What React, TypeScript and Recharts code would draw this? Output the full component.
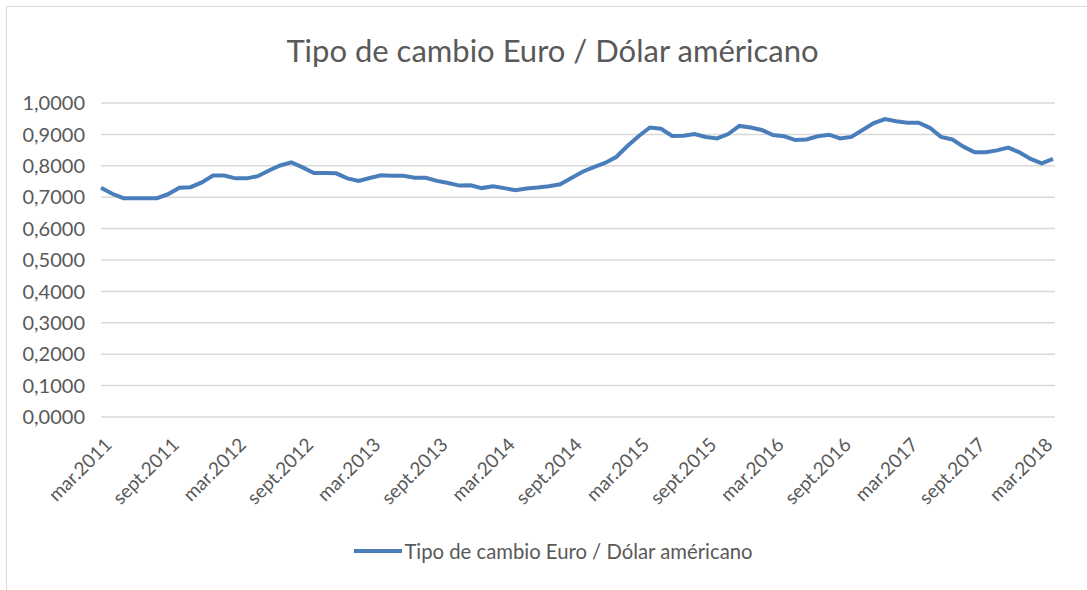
import React from 'react';
import { LineChart, Line, XAxis, YAxis, CartesianGrid, Legend } from 'recharts';

const TITLE = 'Tipo de cambio Euro / Dólar américano';
const SERIES_NAME = 'Tipo de cambio Euro / Dólar américano';

const monthNames = ['mar.', 'abr.', 'may.', 'jun.', 'jul.', 'ago.', 'sept.', 'oct.', 'nov.', 'dic.', 'ene.', 'feb.'];

// Monthly values, mar.2011 .. abr.2018
const values2011 = [0.730, 0.711, 0.697, 0.697, 0.697, 0.697, 0.710, 0.730, 0.732, 0.747];
const values2012 = [0.769, 0.769, 0.760, 0.760, 0.767, 0.785, 0.801, 0.811, 0.795, 0.777, 0.777, 0.776];
const values2013 = [0.760, 0.752, 0.761, 0.770, 0.768, 0.768, 0.762, 0.762, 0.752, 0.745, 0.737, 0.738];
const values2014 = [0.729, 0.735, 0.729, 0.722, 0.728, 0.731, 0.735, 0.741, 0.761, 0.781, 0.796, 0.809];
const values2015 = [0.828, 0.863, 0.894, 0.922, 0.918, 0.895, 0.896, 0.901, 0.892, 0.887, 0.901, 0.927];
const values2016 = [0.922, 0.914, 0.898, 0.894, 0.882, 0.884, 0.894, 0.899, 0.887, 0.892, 0.914, 0.936];
const values2017 = [0.949, 0.942, 0.937, 0.937, 0.921, 0.892, 0.884, 0.861, 0.843, 0.843, 0.849, 0.858];
const values2018 = [0.843, 0.822, 0.808, 0.822];

const values = [...values2011, ...values2012, ...values2013, ...values2014, ...values2015, ...values2016, ...values2017, ...values2018];

const categories = values.map((_, i) => {
  const year = 2011 + Math.floor((i + 2) / 12);
  return monthNames[i % 12] + year;
});

const yTicks = [0, 0.1, 0.2, 0.3, 0.4, 0.5, 0.6, 0.7, 0.8, 0.9, 1.0];

const data = categories.map((c, i) => ({ mes: c, valor: values[i] }));

const FONT = 'Lato, "Open Sans", sans-serif';
const TEXT = '#595959';
const LINE = '#4a7ebb';

const XTick = (props: any) => {
  const { x, y, payload } = props;
  const ax = x + 12;
  const ay = y + 29;
  return (
    <text x={ax} y={ay} textAnchor="end" fill={TEXT} fontSize={19} fontFamily={FONT} transform={`rotate(-45, ${ax}, ${ay})`}>
      {payload.value}
    </text>
  );
};

const LegendContent = () => (
  <div style={{ display: 'flex', justifyContent: 'center', alignItems: 'center', fontFamily: FONT, fontSize: 20.3, color: TEXT }}>
    <svg width={48} height={8} style={{ display: 'block' }}>
      <line x1={0} y1={4} x2={48} y2={4} stroke={LINE} strokeWidth={4} />
    </svg>
    <span style={{ marginLeft: 2 }}>{SERIES_NAME}</span>
  </div>
);

export default function App() {
  return (
    <div style={{ position: 'absolute', left: 0, top: 0, width: 1087, height: 590, background: '#fff', overflow: 'hidden' }}>
      <div style={{ position: 'absolute', left: 6, top: 6, width: 1200, height: 700, borderLeft: '1px solid #d9d9d9', borderTop: '1px solid #d9d9d9' }} />
      <div style={{ position: 'absolute', left: 0, top: 29, width: 1105, textAlign: 'center', fontFamily: FONT, fontSize: 31, color: TEXT, lineHeight: '42px' }}>
        {TITLE}
      </div>
      <div style={{ position: 'absolute', left: 0, top: 0 }}>
        <LineChart width={1087} height={590} data={data} margin={{ top: 103, right: 32, bottom: 113, left: 6 }}>
          <CartesianGrid horizontal vertical={false} stroke="#d9d9d9" strokeWidth={1.5} />
          <XAxis dataKey="mes" interval={5} axisLine={false} tickLine={false} tickSize={0} tickMargin={0} height={60} padding={{ left: 0, right: 2 }} tick={<XTick />} />
          <YAxis domain={[0, 1]} ticks={yTicks} axisLine={false} tickLine={false} tickSize={0} tickMargin={16} width={95}
            tick={{ fill: TEXT, fontSize: 20, fontFamily: FONT }}
            tickFormatter={(v: number) => v.toFixed(4).replace('.', ',')} />
          <Legend verticalAlign="middle" align="center" content={<LegendContent />} wrapperStyle={{ position: 'absolute', top: 539, left: 0, width: 1107 }} />
          <Line type="linear" dataKey="valor" name={SERIES_NAME} stroke={LINE} strokeWidth={4} dot={false} isAnimationActive={false} />
        </LineChart>
      </div>
    </div>
  );
}
